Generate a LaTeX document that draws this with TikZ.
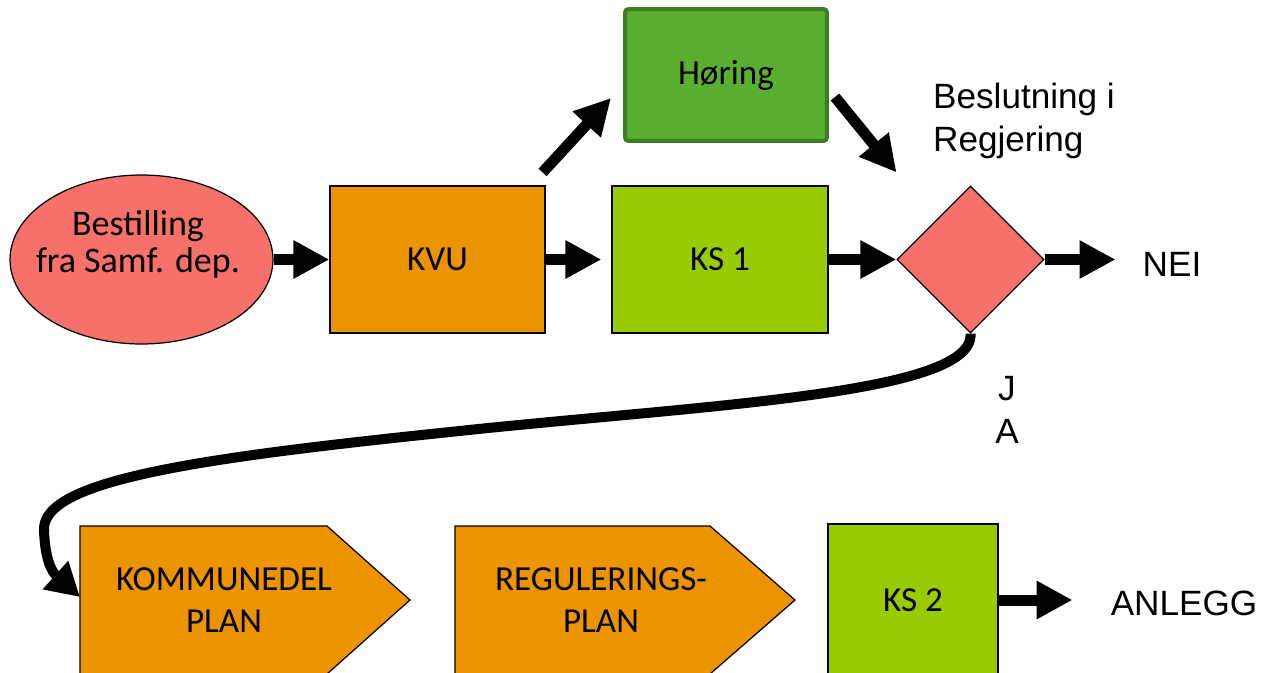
\documentclass[tikz,border=0pt]{standalone}
\usepackage{fontspec}
\setmainfont{Carlito}
\newfontfamily\arialfont{Liberation Sans}
\usepackage{tikz}
\usetikzlibrary{arrows.meta,shapes.geometric,calc}

\definecolor{salmon}{HTML}{F6716A}
\definecolor{kvuorange}{HTML}{EC9400}
\definecolor{ksgreen}{HTML}{99CC00}
\definecolor{horinggreen}{HTML}{5BAF30}
\definecolor{horingedge}{HTML}{3E7D24}

\begin{document}
\begin{tikzpicture}[
  x=0.02cm, y=-0.02cm,
  every node/.style={font=\fontsize{20}{24}\selectfont, align=center},
  box/.style={draw=black, line width=0.7pt, inner sep=0pt},
  blockarrow/.style={line width=0.22cm, -{Triangle[length=0.72cm,width=0.72cm]}},
  curvearrow/.style={line width=0.2cm, -{Triangle[length=0.66cm,width=0.72cm]}},
  plan/.style={fill=kvuorange, draw=black, line width=0.7pt},
  sidetext/.style={font=\arialfont\fontsize{20}{24.5}\selectfont},
]
\clip (0,0) rectangle (1265,673);

% top row
\node[box, ellipse, fill=salmon, minimum width=5.26cm, minimum height=3.38cm] (bestilling) at (141.5,259.5) {};
\node[font=\fontsize{20.5}{21}\selectfont] (bestillingtext) at (138,244.5) {Bestilling\\fra Samf. dep.};
\node[box, fill=kvuorange, minimum width=4.3cm, minimum height=2.94cm] (kvu) at (437.5,259.5) {KVU};
\node[box, fill=ksgreen, minimum width=4.32cm, minimum height=2.94cm] (ks1) at (720,259.5) {KS 1};
\node[draw=horingedge, line width=0.08cm, rounded corners=2pt, fill=horinggreen,
  minimum width=4.04cm, minimum height=2.64cm] (horing) at (726,75) {Høring};
\node[box, diamond, aspect=1, fill=salmon, minimum width=2.94cm, minimum height=2.94cm] (beslut) at (970.5,259.5) {};
\node[sidetext, align=left] (beslutlabel) at (1024,121) {Beslutning i\\Regjering};
\node[sidetext] (nei) at (1172,264) {NEI};
\node[sidetext] (ja) at (1007,410) {J\\A};

% bottom row
\draw[plan] (80,526) -- (327,526) -- (410,600) -- (327,674) -- (80,674) -- cycle;
\node (komm) at (224,600) {KOMMUNEDEL\\PLAN};
\coordinate (kommin) at (80,597);
\draw[plan] (455,526) -- (710,526) -- (795,600) -- (710,674) -- (455,674) -- cycle;
\node (reg) at (601,600) {REGULERINGS-\\PLAN};
\node[box, fill=ksgreen, minimum width=3.4cm, minimum height=3.04cm] (ks2) at (913,600) {KS 2};
\node[sidetext] (anlegg) at (1184,603) {ANLEGG};

% arrows
\foreach \a/\b/\s in {bestilling/kvu/0, kvu/ks1/0.2cm, ks1/beslut/0}
  \draw[blockarrow, shorten >=\s] (\a) -- (\b);
\draw[blockarrow] (beslut.east) -- ($(beslut.east -| nei.west)+(-21,0)$);
\draw[blockarrow] (ks2.east) -- ($(ks2.east -| anlegg.west)+(-32,0)$);
\draw[blockarrow] ($(kvu.north east)+(-3,-13)$) -- ($(horing.west)+(-12,23)$);
\draw[blockarrow] ($(horing.east)+(6,22)$) -- ($(beslut.north)+(-74,-13)$);

\draw[curvearrow] (beslut.south) .. controls (975,395) and (700,405) .. (450,432)
  .. controls (200,458) and (42,480) .. (44,530)
  .. controls (45,560) and (52,572) .. (kommin);
\end{tikzpicture}
\end{document}
